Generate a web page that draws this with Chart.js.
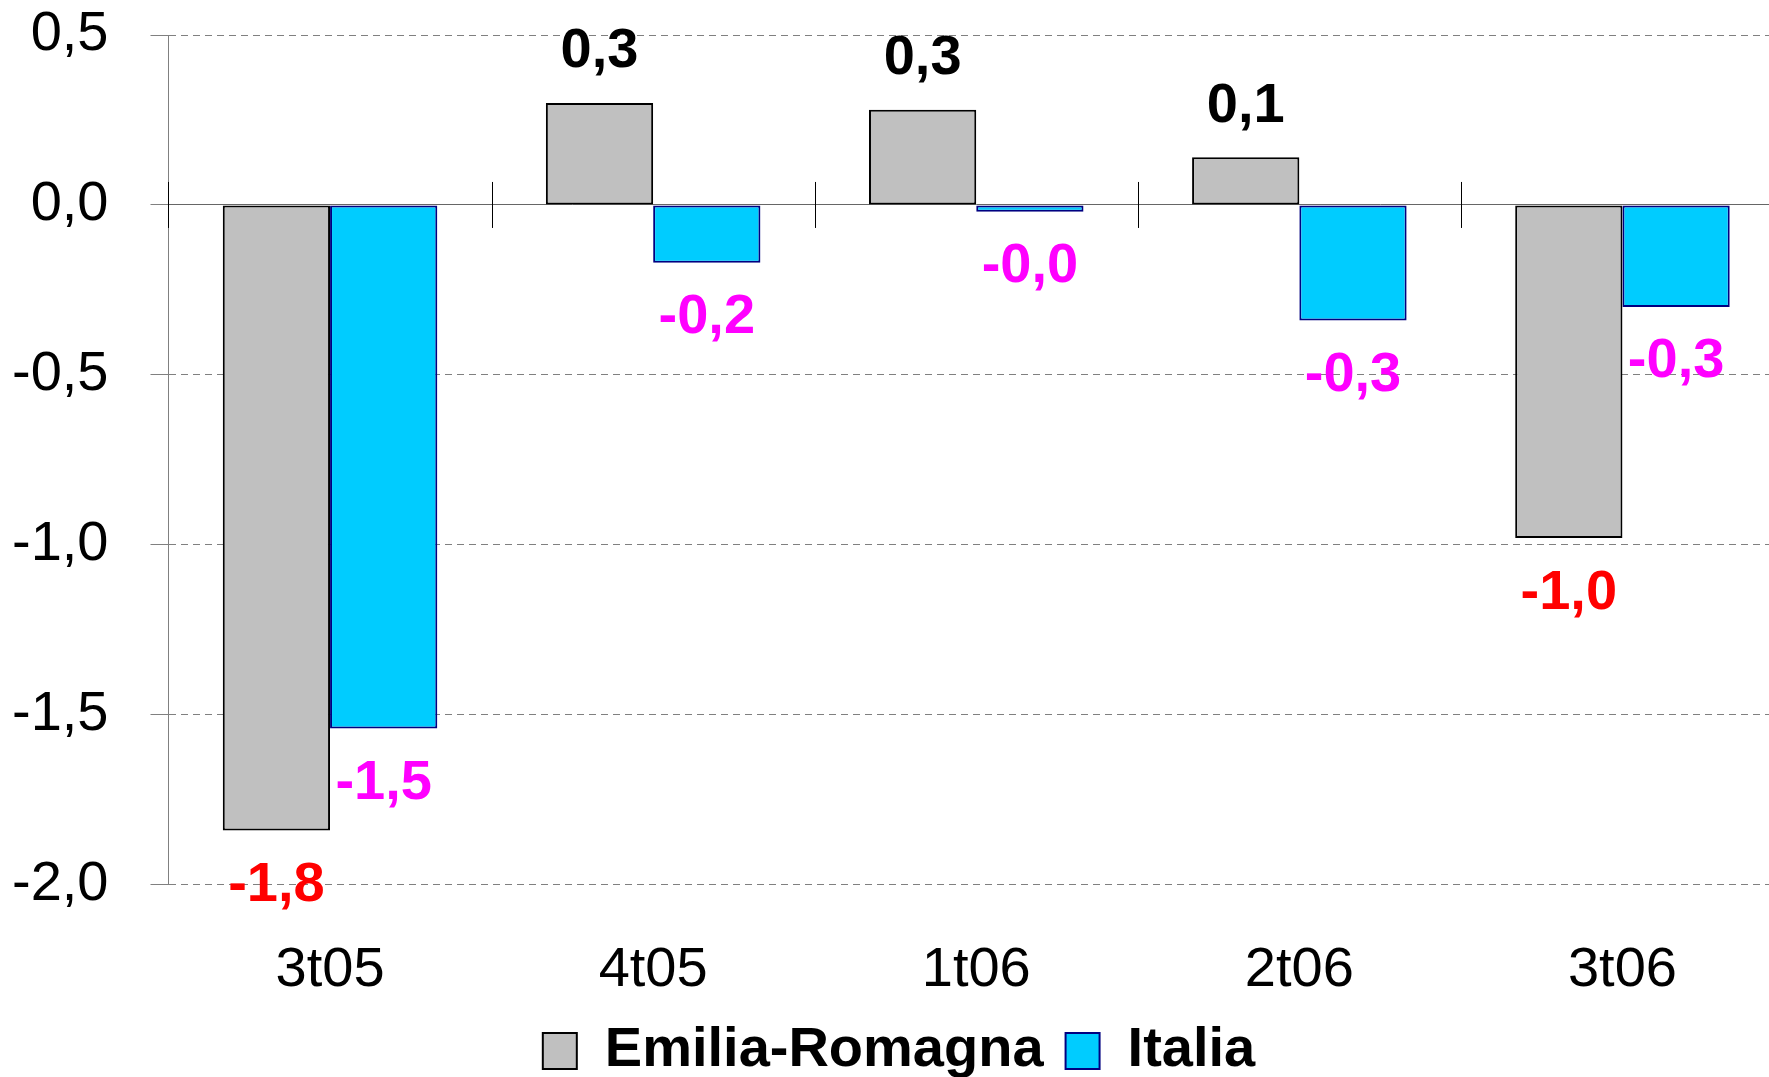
<!DOCTYPE html>
<html>
<head>
<meta charset="utf-8">
<script src="https://cdn.jsdelivr.net/npm/chart.js@4.4.0/dist/chart.umd.min.js"></script>
<style>
html, body { margin: 0; padding: 0; background: #fff; overflow: hidden; }
</style>
</head>
<body>
<canvas id="grafico" width="1800" height="1077"></canvas>
<script>
// dati
var trimestri = ['3t05', '4t05', '1t06', '2t06', '3t06'];
var emiliaRomagna = [-1.84, 0.30, 0.28, 0.14, -0.98];
var italia = [-1.54, -0.17, -0.02, -0.34, -0.30];
var tickAsseY = [0.5, 0.0, -0.5, -1.0, -1.5, -2.0];

var FONT = '"Liberation Sans", Arial, sans-serif';

function formatta(v) {
    return v.toFixed(1).replace('.', ',');
}

// etichette dei valori sopra/sotto le barre
var etichette = {
    id: 'etichette',
    afterDatasetsDraw: function(chart) {
        var ctx = chart.ctx;
        ctx.save();
        ctx.font = 'bold 56px ' + FONT;
        ctx.textAlign = 'center';
        ctx.textBaseline = 'middle';
        chart.data.datasets.forEach(function(ds, i) {
            chart.getDatasetMeta(i).data.forEach(function(bar, j) {
                var v = ds.data[j];
                if (i === 1) {
                    ctx.fillStyle = '#FF00FF';
                } else {
                    ctx.fillStyle = v < 0 ? '#FF0000' : '#000000';
                }
                var y = v < 0 ? bar.y + 55 : bar.y - 51;
                ctx.fillText(formatta(v), bar.x, y);
            });
        });
        ctx.restore();
    }
};

// tacche delle categorie sulla linea dello zero
var tacche = {
    id: 'tacche',
    beforeDatasetsDraw: function(chart) {
        var x = chart.scales.x, y = chart.scales.y;
        var ctx = chart.ctx;
        var y0 = y.getPixelForValue(0);
        var larg = x.getPixelForValue(1) - x.getPixelForValue(0);
        ctx.save();
        ctx.strokeStyle = '#000000';
        ctx.lineWidth = 1;
        ctx.beginPath();
        for (var i = 0; i < trimestri.length; i++) {
            var px = Math.round(x.getPixelForValue(i) - larg / 2) + 0.5;
            ctx.moveTo(px, y0 - 23);
            ctx.lineTo(px, y0 + 23);
        }
        ctx.stroke();
        ctx.restore();
    }
};

var grafico = new Chart(document.getElementById('grafico'), {
    type: 'bar',
    data: {
        labels: trimestri,
        datasets: [{
            label: 'Emilia-Romagna',
            data: emiliaRomagna,
            backgroundColor: '#C0C0C0',
            borderColor: '#000000',
            borderWidth: 2,
            borderSkipped: false
        },
        {
            label: 'Italia',
            data: italia,
            backgroundColor: '#00CCFF',
            borderColor: '#000080',
            borderWidth: 2,
            borderSkipped: false
        }]
    },
    options: {
        responsive: false,
        animation: false,
        layout: {
            padding: { left: 14, right: 16, top: 35, bottom: -12 }
        },
        datasets: {
            bar: {
                categoryPercentage: 0.664,
                barPercentage: 1.0
            }
        },
        plugins: {
            tooltip: { enabled: false },
            legend: {
                position: 'bottom',
                labels: {
                    color: '#000000',
                    font: { family: FONT, size: 56, weight: 'bold' },
                    boxWidth: 34,
                    boxHeight: 36,
                    padding: 22
                }
            }
        },
        scales: {
            x: {
                grid: { display: false },
                border: { display: false },
                afterFit: function(axis) { axis.height -= 47; },
                ticks: {
                    color: '#000000',
                    font: { family: FONT, size: 56 },
                    padding: 44
                }
            },
            y: {
                min: -2.0,
                max: 0.5,
                afterBuildTicks: function(axis) {
                    axis.ticks = tickAsseY.map(function(v) { return { value: v }; });
                },
                afterFit: function(axis) {
                    axis.width -= 44;
                    axis.paddingTop = 0;
                    axis.paddingBottom = 0;
                },
                grid: {
                    color: function(c) { return c.tick && c.tick.value === 0 ? '#666666' : '#808080'; },
                    lineWidth: 1,
                    tickLength: 18,
                    tickColor: '#808080'
                },
                border: {
                    display: true,
                    color: '#808080',
                    width: 1,
                    dash: function(c) { return c.tick && c.tick.value === 0 ? [] : [7, 5]; }
                },
                ticks: {
                    color: '#000000',
                    font: { family: FONT, size: 56 },
                    padding: 42,
                    callback: function(v) { return formatta(v); }
                }
            }
        }
    },
    plugins: [tacche, etichette]
});
</script>
</body>
</html>
